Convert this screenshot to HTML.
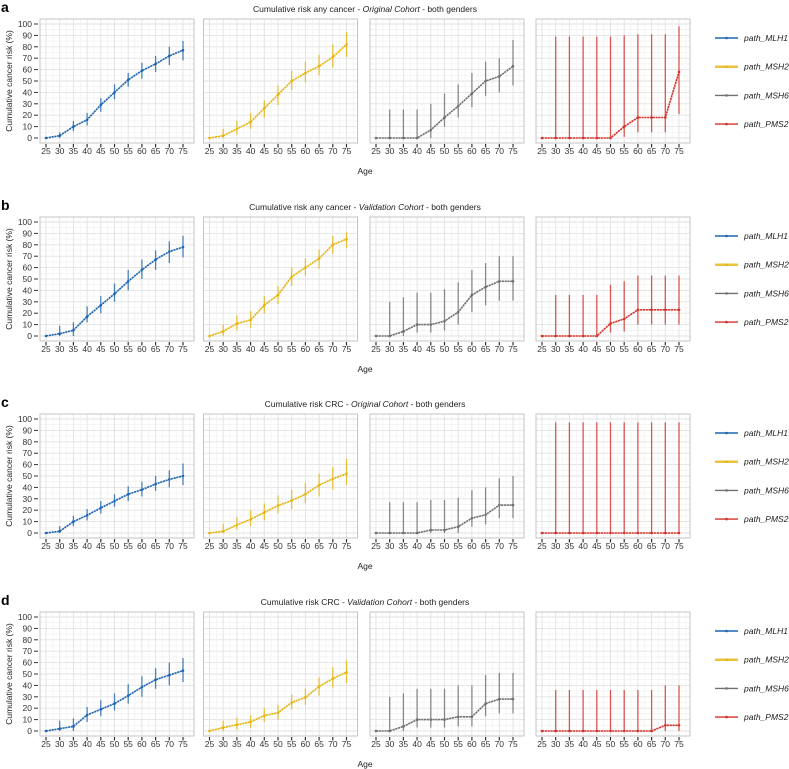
<!DOCTYPE html>
<html><head><meta charset="utf-8"><style>
html,body{margin:0;padding:0;background:#fff;}
svg{display:block;font-family:"Liberation Sans",sans-serif;}
</style></head><body>
<svg id="chart" width="789" height="769" viewBox="0 0 789 769"></svg>
<script>
const ages = [25,30,35,40,45,50,55,60,65,70,75];
const xTicks = ['25','30','35','40','45','50','55','60','65','70','75'];
const yTicks = [0,10,20,30,40,50,60,70,80,90,100];
const genes = ['path_MLH1','path_MSH2','path_MSH6','path_PMS2'];
const rowLetters = ['a','b','c','d'];
const rowTitles = [['Cumulative risk any cancer - ','Original Cohort',' - both genders'],
 ['Cumulative risk any cancer - ','Validation Cohort',' - both genders'],
 ['Cumulative risk CRC - ','Original Cohort',' - both genders'],
 ['Cumulative risk CRC - ','Validation Cohort',' - both genders']];
// row a
const aMLH1 = [0,2,10,16,29,40,51,59,65,72,77];
const aMLH1Lo = [0,0,6,11,23,34,45,52,58,64,68];
const aMLH1Hi = [0,5,15,22,35,47,57,66,72,80,85];
const aMSH2 = [0,2,8,14,26,38,50,57,63,71,82];
const aMSH2Lo = [0,0,3,8,18,29,42,49,55,62,71];
const aMSH2Hi = [0,8,15,22,33,46,59,67,73,82,93];
const aMSH6 = [0,0,0,0,7,18,28,39,50,54,63];
const aMSH6Lo = [0,0,0,0,0,10,18,27,37,40,46];
const aMSH6Hi = [0,25,25,25,30,39,47,57,67,70,86];
const aPMS2 = [0,0,0,0,0,0,10,18,18,18,58];
const aPMS2Lo = [0,0,0,0,0,0,1,5,5,5,21];
const aPMS2Hi = [0,89,89,89,89,89,90,91,91,91,98];
// row b
const bMLH1 = [0,2,5,17,27,37,48,58,67,74,78];
const bMLH1Lo = [0,0,0,12,20,30,40,50,58,64,69];
const bMLH1Hi = [0,9,12,26,35,46,58,67,75,83,88];
const bMSH2 = [0,4,11,14,27,36,52,60,68,80,85];
const bMSH2Lo = [0,0,5,7,20,28,44,53,59,72,77];
const bMSH2Hi = [0,10,18,22,35,44,60,68,76,88,91];
const bMSH6 = [0,0,4,10,10,13,21,36,43,48,48];
const bMSH6Lo = [0,0,0,3,3,5,10,21,27,31,31];
const bMSH6Hi = [0,30,34,38,38,41,47,58,64,70,70];
const bPMS2 = [0,0,0,0,0,11,15,23,23,23,23];
const bPMS2Lo = [0,0,0,0,0,3,4,10,10,10,10];
const bPMS2Hi = [0,36,36,36,36,45,48,53,53,53,53];
// row c
const cMLH1 = [0,1.5,10,15.5,22,28,34,38,43,47,50];
const cMLH1Lo = [0,0,6,11,17,23,28,32,37,40,42];
const cMLH1Hi = [0,6,15,21,28,34,41,45,50,55,61];
const cMSH2 = [0,1.5,7,12,18,24,28.5,34,42,47.5,52];
const cMSH2Lo = [0,0,3,6,11,17,21,26,32,38,42];
const cMSH2Hi = [0,8,14,20,26,33,38,44,52,58,65];
const cMSH6 = [0,0,0,0,2.6,2.6,5.5,13,16,24.5,24.5];
const cMSH6Lo = [0,0,0,0,0,0,0,5.5,7.5,13,13];
const cMSH6Hi = [0,27,27,27,29,29,31,37.6,40,48,50];
const cPMS2 = [0,0,0,0,0,0,0,0,0,0,0];
const cPMS2Lo = [0,0,0,0,0,0,0,0,0,0,0];
const cPMS2Hi = [0,97,97,97,97,97,97,97,97,97,97];
// row d
const dMLH1 = [0,2,4,14,19,24,31,38.5,45,49,53];
const dMLH1Lo = [0,0,0,8,13,18,24,30,37,40,43];
const dMLH1Hi = [0,9,11,21,27,33,41,48,55,60,64];
const dMSH2 = [0,3,5.5,8,13.5,16,25,29.5,39,46,51.5];
const dMSH2Lo = [0,0,1,3,8,10,19,23,31,38,42];
const dMSH2Hi = [0,9,12,14,20,23,32,37,47,56,62];
const dMSH6 = [0,0,4,10,10,10,12.5,12.5,24,28,28];
const dMSH6Lo = [0,0,0,3,3,3,4,4,13,15.5,15.5];
const dMSH6Hi = [0,30,33,37,37,37,40,40,49,51,51];
const dPMS2 = [0,0,0,0,0,0,0,0,0,5,5];
const dPMS2Lo = [0,0,0,0,0,0,0,0,0,0,0];
const dPMS2Hi = [0,36,36,36,36,36,36,36,36,40,40];

const rows = [
 [[aMLH1,aMLH1Lo,aMLH1Hi],[aMSH2,aMSH2Lo,aMSH2Hi],[aMSH6,aMSH6Lo,aMSH6Hi],[aPMS2,aPMS2Lo,aPMS2Hi]],
 [[bMLH1,bMLH1Lo,bMLH1Hi],[bMSH2,bMSH2Lo,bMSH2Hi],[bMSH6,bMSH6Lo,bMSH6Hi],[bPMS2,bPMS2Lo,bPMS2Hi]],
 [[cMLH1,cMLH1Lo,cMLH1Hi],[cMSH2,cMSH2Lo,cMSH2Hi],[cMSH6,cMSH6Lo,cMSH6Hi],[cPMS2,cPMS2Lo,cPMS2Hi]],
 [[dMLH1,dMLH1Lo,dMLH1Hi],[dMSH2,dMSH2Lo,dMSH2Hi],[dMSH6,dMSH6Lo,dMSH6Hi],[dPMS2,dPMS2Lo,dPMS2Hi]]
];
const colors = ['#1f66b3','#e6b50f','#707070','#d3322b'];
const rowOff = [0,198,395,593];
const panelLeft = [40,203.5,370,536];
const panelW = 154;

const svg = document.getElementById('chart');
const NS = 'http://www.w3.org/2000/svg';
function mk(tag, attrs, parent){
  const e = document.createElementNS(NS, tag);
  for (const k in attrs) e.setAttribute(k, attrs[k]);
  (parent||svg).appendChild(e);
  return e;
}
function xScale(left, a){ return left + 6 + (a-25)*2.74; }
function yScale(off, v){ return off + 138 - v*1.14; }

rows.forEach((row, r) => {
  const off = rowOff[r];
  const g = mk('g', {});
  
  
  const lt = mk('text', {x:1, y:off+12, 'font-size':14, 'font-weight':'bold', fill:'#000'}, g);
  lt.textContent = rowLetters[r];
  
  
  const tt = mk('text', {x:365, y:off+12, 'font-size':8.5, 'text-anchor':'middle', fill:'#222'}, g);
  
  
  rowTitles[r].forEach((s, i) => {
    const sp = mk('tspan', i===1 ? {'font-style':'italic'} : {}, tt);
    sp.textContent = s;
  });
  const yt = mk('text', {x:0, y:0, 'font-size':8.5, 'text-anchor':'middle', fill:'#222', transform:`translate(12,${off+81}) rotate(-90)`}, g);
  yt.textContent = 'Cumulative cancer risk (%)';
  
  
  const xt = mk('text', {x:365, y:off+174, 'font-size':8.5, 'text-anchor':'middle', fill:'#222'}, g);
  xt.textContent = 'Age';
  
  
  yTicks.forEach(v => {
    const y = yScale(off, v);
    const t = mk('text', {x:32, y:y+3, 'font-size':8.5, 'text-anchor':'end', fill:'#333'}, g);
    t.textContent = v;
    
    
    mk('line', {x1:34, x2:38, y1:y, y2:y, stroke:'#333', 'stroke-width':1}, g);
  });
  row.forEach((ser, p) => {
    const left = panelLeft[p];
    const pg = mk('g', {}, g);
    
    
    mk('rect', {x:left, y:off+19, width:panelW, height:124, fill:'#fff', stroke:'none'}, pg);
    for (let v=0; v<=100; v+=5) {
      const y = yScale(off, v);
      mk('line', {x1:left, x2:left+panelW, y1:y, y2:y, stroke: v%10===0 ? '#e2e2e2' : '#efefef', 'stroke-width': v%10===0 ? 0.9 : 0.6}, pg);
    }
    for (let a=22.5; a<=77.5; a+=2.5) {
      const x = xScale(left, a);
      if (x < left || x > left+panelW) continue;
      mk('line', {x1:x, x2:x, y1:off+19, y2:off+143, stroke: a%5===0 ? '#e2e2e2' : '#efefef', 'stroke-width': a%5===0 ? 0.9 : 0.6}, pg);
    }
    mk('rect', {x:left, y:off+19, width:panelW, height:124, fill:'none', stroke:'#c4c4c4', 'stroke-width':1}, pg);
    ages.forEach((a, i) => {
      const x = xScale(left, a);
      mk('line', {x1:x, x2:x, y1:off+144, y2:off+147.5, stroke:'#333', 'stroke-width':1.2}, pg);
      const t = mk('text', {x:x, y:off+154, 'font-size':8.5, 'text-anchor':'middle', fill:'#333'}, pg);
      t.textContent = xTicks[i];
      
      
    });
    const [vals, lo, hi] = ser;
    const col = colors[p];
    ages.forEach((a, i) => {
      if (i === 0) return;
      const eb = mk('line', {x1:xScale(left,a), x2:xScale(left,a), y1:yScale(off,lo[i]), y2:yScale(off,hi[i]), stroke:col, 'stroke-width':1.3, opacity:0.8}, pg);
      
      
    });
    const pts = ages.map((a,i) => xScale(left,a).toFixed(1)+','+yScale(off,vals[i]).toFixed(1)).join(' ');
    const pl = mk('polyline', {points:pts, fill:'none', stroke:col, 'stroke-width':1.6, 'stroke-dasharray':'2.2 0.6'}, pg);
    
    
    ages.forEach((a, i) => {
      const c = mk('circle', {cx:xScale(left,a), cy:yScale(off,vals[i]), r:1.3, fill:col}, pg);
      
      
    });
  });
  genes.forEach((gname, k) => {
    const y = off + 38 + k*28.7;
    const lg = mk('g', {}, g);
    
    
    mk('line', {x1:715, x2:738, y1:y, y2:y, stroke:colors[k], 'stroke-width': k===1 ? 2.5 : 1.4, opacity: k===1 ? 0.8 : 1}, lg);
    mk('circle', {cx:726.5, cy:y, r:1.3, fill:colors[k]}, lg);
    const t = mk('text', {x:744, y:y+3, 'font-size':8.5, 'font-style':'italic', fill:'#222'}, lg);
    t.textContent = gname;
  });
});
</script>
</body></html>
